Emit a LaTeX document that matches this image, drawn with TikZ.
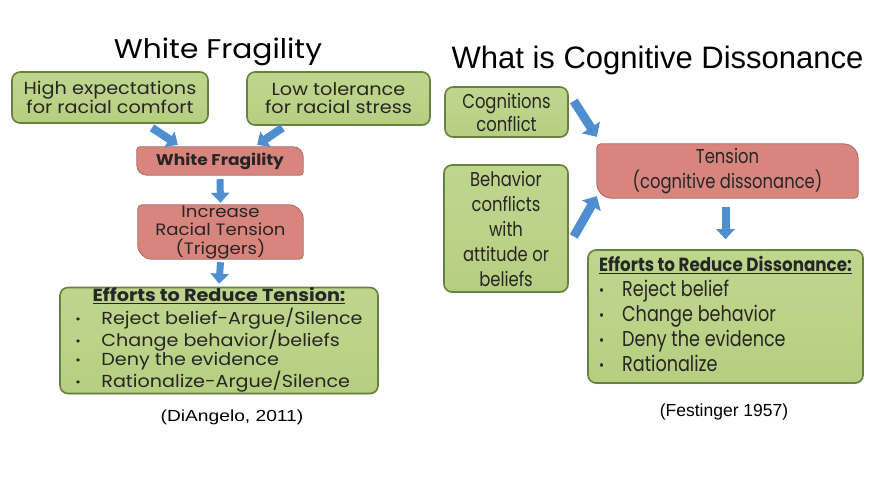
\documentclass[tikz,border=0pt]{standalone}
\usepackage{fontspec}
\usetikzlibrary{arrows.meta,backgrounds,shadows,calc}
\setmainfont{Poppins}
\newfontfamily\gothicW[FakeStretch=1.1]{Poppins}
\newfontfamily\gothicN[FakeStretch=0.82]{Poppins}
\newfontfamily\gothicB[FakeStretch=0.88]{Poppins}
\newfontfamily\arial{Liberation Sans}
\newfontfamily\arialW[FakeStretch=1.2]{Liberation Sans}
\definecolor{gfill}{HTML}{B6CE80}
\definecolor{gtop}{HTML}{BED58C}
\definecolor{gdark}{HTML}{66823E}
\definecolor{pfill}{HTML}{D8857D}
\definecolor{pdark}{HTML}{A96B66}
\definecolor{barrowc}{HTML}{4F8ECF}
\tikzset{
  greenbox/.style={draw=gdark, line width=1.6pt, rounded corners=8pt,
    top color=gtop, bottom color=gfill, middle color=gtop!70!gfill,
    drop shadow={opacity=0.25,shadow xshift=0.8pt,shadow yshift=-1pt},
    inner sep=0pt, align=center, text=black!85},
  pinkbox/.style={inner sep=0pt, align=center, text=black!85},
  pinkshape/.style={draw=pdark, line width=0.8pt, fill=pfill},
  barrow/.style={draw=barrowc, line width=8pt,
    -{Triangle[width=18pt,length=10pt]}},
  dbarrow/.style={draw=barrowc, line width=9pt,
    -{Triangle[width=21pt,length=11pt]}},
}
\newcommand\diagbox[3]{%
  \begin{pgfonlayer}{background}
  \draw[pinkshape] (#1.west) [rounded corners=#3] -- (#1.north west)
    [rounded corners=#2] -- (#1.north east)
    [rounded corners=#3] -- (#1.south east)
    [rounded corners=#2] -- (#1.south west)
    [rounded corners=#3] -- cycle;
  \end{pgfonlayer}}
\newcommand\bul{\raisebox{1pt}{\scalebox{0.7}{\textbullet}}}
\begin{document}
\begin{tikzpicture}[x=1pt,y=-1pt]
\begin{pgfonlayer}{background}
\fill[white] (0,0) rectangle (891,485);
\end{pgfonlayer}
\useasboundingbox (0,0) rectangle (891,485);
% ---------- left ----------
\node[font=\gothicW\fontsize{27}{30}\selectfont] (t1) at (218,52) {White Fragility};
\node[greenbox, minimum width=196pt, minimum height=51pt,
  font=\gothicW\fontsize{17.5}{18}\selectfont] (hi) at (110,97.5)
  {High expectations\\for racial comfort};
\node[greenbox, minimum width=183pt, minimum height=53pt,
  font=\gothicW\fontsize{17.5}{18}\selectfont] (lo) at (338.5,98.5)
  {Low tolerance\\for racial stress};
\node[pinkbox, minimum width=166pt, minimum height=28pt,
  font=\gothicW\bfseries\fontsize{15.5}{16}\selectfont] (wf) at (220,161) {White Fragility};
\diagbox{wf}{10pt}{3pt}
\node[pinkbox, minimum width=165pt, minimum height=54pt,
  font=\gothicW\fontsize{16.5}{18.5}\selectfont] (inc) at (220.5,232)
  {Increase\\Racial Tension\\(Triggers)};
\diagbox{inc}{14pt}{4pt}
\node[greenbox, minimum width=318pt, minimum height=103pt,
  font=\gothicW\fontsize{17.4}{19}\selectfont] (eff) at (219,340.5)
  {\begin{tabular}{@{}p{26pt}@{}l@{}}
   \multicolumn{2}{@{}c@{}}{\bfseries\fontsize{17.5}{19}\selectfont\underline{Efforts to Reduce Tension:}}\\[1pt]
   \bul & Reject belief-Argue/Silence\\
   \bul & Change behavior/beliefs\\
   \bul & Deny the evidence\\
   \bul & Rationalize-Argue/Silence
  \end{tabular}};
\node[font=\arialW\fontsize{16}{18}\selectfont] (c1) at (232,417) {(DiAngelo, 2011)};
\draw[barrow] ([xshift=42pt,yshift=-4pt]hi.south) -- ([xshift=41pt,yshift=2pt]wf.north west);
\draw[barrow] ([xshift=-56pt,yshift=-2pt]lo.south) -- ([xshift=-46pt,yshift=2pt]wf.north east);
\draw[barrow, line width=7pt] ([yshift=-4pt]wf.south) -- ([yshift=2pt]inc.north);
\draw[barrow, line width=7pt] ([yshift=-3pt]inc.south) -- ([yshift=3pt]eff.north);
% ---------- right ----------
\node[font=\arial\fontsize{31}{34}\selectfont] (t2) at (657.5,60) {What is Cognitive Dissonance};
\node[greenbox, minimum width=123pt, minimum height=50pt,
  font=\gothicN\fontsize{20}{23}\selectfont] (cog) at (506.5,112)
  {Cognitions\\conflict};
\node[pinkbox, minimum width=261pt, minimum height=54pt,
  font=\gothicN\fontsize{20}{25}\selectfont] (tens) at (727.5,171)
  {Tension\\(cognitive dissonance)};
\diagbox{tens}{15pt}{4pt}
\node[greenbox, minimum width=124pt, minimum height=127pt,
  font=\gothicN\fontsize{20}{25}\selectfont] (beh) at (506,228.5)
  {Behavior\\conflicts\\with\\attitude or\\beliefs};
\node[greenbox, minimum width=275pt, minimum height=133pt,
  font=\gothicN\fontsize{21.5}{25}\selectfont] (eff2) at (725.5,316.5)
  {\begin{tabular}{@{}p{23pt}@{}l@{}}
   \multicolumn{2}{@{}c@{}}{\gothicB\bfseries\fontsize{19}{22}\selectfont\underline{Efforts to Reduce Dissonance:}}\\
   \bul & Reject belief\\
   \bul & Change behavior\\
   \bul & Deny the evidence\\
   \bul & Rationalize
  \end{tabular}};
\node[font=\arial\fontsize{17.5}{20}\selectfont] (c2) at (724,412) {(Festinger 1957)};
\draw[dbarrow] ([xshift=5pt,yshift=11pt]cog.east) -- ([yshift=7pt]tens.north west);
\draw[dbarrow] ([xshift=5pt,yshift=-8pt]beh.east) -- ([yshift=2pt]tens.south west);
\draw[barrow] ([xshift=-2pt,yshift=-9pt]tens.south) -- ([yshift=10pt]eff2.north);
\end{tikzpicture}
\end{document}
